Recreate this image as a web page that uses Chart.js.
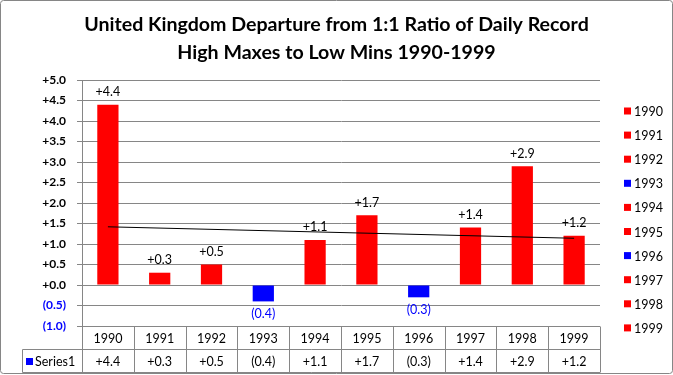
<!DOCTYPE html>
<html>
<head>
<meta charset="utf-8">
<script src="https://cdn.jsdelivr.net/npm/chart.js@4"></script>
<style>
    body { margin: 0; background: #fff; }
    canvas { display: block; }
</style>
</head>
<body>
<canvas id="ukChart" width="673" height="375"></canvas>
<script>
const years = ['1990', '1991', '1992', '1993', '1994', '1995', '1996', '1997', '1998', '1999'];
const departures = [4.4, 0.3, 0.5, -0.4, 1.1, 1.7, -0.3, 1.4, 2.9, 1.2];
// trend line end points (1990 and 1999)
const trendStart = 1.42;
const trendEnd = 1.14;
const yMin = -1.0;
const yMax = 5.0;
const yStep = 0.5;

const RED = '#ff0000';
const BLUE = '#0000ff';
const GRID = '#868686';
const FONT = 'Lato, "Liberation Sans", sans-serif';

function formatValue(v) {
    if (v < 0) return '(' + Math.abs(v).toFixed(1) + ')';
    return '+' + v.toFixed(1);
}

const barColors = departures.map(v => v < 0 ? BLUE : RED);
const trendData = years.map((y, i) => i === 0 ? trendStart : (i === years.length - 1 ? trendEnd : null));

// labels above / below the bars, data table, legend and frame
const extrasPlugin = {
    id: 'extras',
    afterDatasetsDraw(chart) {
        const ctx = chart.ctx;
        const meta = chart.getDatasetMeta(1);
        ctx.save();
        ctx.font = '12.5px ' + FONT;
        ctx.textAlign = 'center';
        ctx.textBaseline = 'middle';
        meta.data.forEach((bar, i) => {
            const v = departures[i];
            if (v >= 0) {
                ctx.fillStyle = '#000';
                ctx.fillText(formatValue(v), bar.x, bar.y - 12.5);
            } else {
                ctx.fillStyle = BLUE;
                ctx.fillText(formatValue(v), bar.x, bar.y + 13);
            }
        });
        ctx.restore();
    },
    afterDraw(chart) {
        const ctx = chart.ctx;
        const area = chart.chartArea;
        const xs = chart.scales.x;
        const n = years.length;
        const colW = (area.right - area.left) / n;
        const top = Math.round(area.bottom) + 0.5;
        const rowH = 23;
        const tableLeft = 22.5;

        ctx.save();
        ctx.strokeStyle = GRID;
        ctx.lineWidth = 1;
        ctx.beginPath();
        ctx.moveTo(area.left, top);
        ctx.lineTo(area.right, top);
        ctx.moveTo(tableLeft, top + rowH);
        ctx.lineTo(area.right, top + rowH);
        ctx.moveTo(tableLeft, top + 2 * rowH);
        ctx.lineTo(area.right, top + 2 * rowH);
        ctx.moveTo(tableLeft, top + rowH);
        ctx.lineTo(tableLeft, top + 2 * rowH);
        for (let i = 0; i <= n; i++) {
            const x = Math.round(area.left + i * colW) + 0.5;
            ctx.moveTo(x, top);
            ctx.lineTo(x, top + 2 * rowH);
        }
        ctx.stroke();

        ctx.font = '12.5px ' + FONT;
        ctx.textAlign = 'center';
        ctx.textBaseline = 'middle';
        ctx.fillStyle = '#000';
        years.forEach((yr, i) => {
            const cx = xs.getPixelForValue(i);
            ctx.fillText(yr, cx, top + rowH / 2 + 1);
            ctx.fillText(formatValue(departures[i]), cx, top + rowH * 1.5 + 1);
        });
        ctx.fillStyle = BLUE;
        ctx.fillRect(26, top + rowH * 1.5 - 3, 7, 7);
        ctx.fillStyle = '#000';
        ctx.textAlign = 'left';
        ctx.fillText('Series1', 35, top + rowH * 1.5 + 1);

        // legend
        years.forEach((yr, i) => {
            const cy = 111 + i * 24.1;
            ctx.fillStyle = barColors[i];
            ctx.fillRect(624, cy - 3.5, 7, 7);
            ctx.fillStyle = '#000';
            ctx.fillText(yr, 634, cy + 1);
        });

        // outer frame
        ctx.strokeStyle = GRID;
        ctx.lineWidth = 1;
        ctx.beginPath();
        ctx.roundRect(0.5, 0.5, chart.width - 1, chart.height - 2, 3);
        ctx.stroke();
        ctx.restore();
    }
};

new Chart(document.getElementById('ukChart').getContext('2d'), {
    data: {
        labels: years,
        datasets: [{
            type: 'line',
            label: 'Trend',
            data: trendData,
            spanGaps: true,
            borderColor: '#000',
            borderWidth: 1,
            pointRadius: 0,
            order: 0
        }, {
            type: 'bar',
            label: 'Series1',
            data: departures,
            backgroundColor: barColors,
            categoryPercentage: 1,
            barPercentage: 0.41,
            order: 1
        }]
    },
    options: {
        responsive: false,
        animation: false,
        layout: {
            padding: { left: 0, right: 0, top: 0, bottom: 49 }
        },
        plugins: {
            legend: { display: false },
            tooltip: { enabled: false },
            title: {
                display: true,
                text: ['United Kingdom Departure from 1:1 Ratio of Daily Record', 'High Maxes to Low Mins 1990-1999'],
                color: '#000',
                font: { family: FONT, size: 19.6, weight: 'bold', lineHeight: 1.43 },
                padding: { top: 11, bottom: 13 }
            }
        },
        scales: {
            x: {
                display: false,
                offset: true,
                grid: { display: false }
            },
            y: {
                min: yMin,
                max: yMax,
                ticks: {
                    stepSize: yStep,
                    padding: 11,
                    font: { family: FONT, size: 12, weight: 'bold' },
                    color: ctx => ctx.tick.value < 0 ? BLUE : '#000',
                    callback: v => formatValue(v)
                },
                grid: { color: GRID, tickLength: 5 },
                border: { color: GRID },
                afterFit: scale => { scale.width = 82; }
            },
            // empty right-hand axis that keeps room for the legend column
            yRight: {
                position: 'right',
                min: yMin,
                max: yMax,
                ticks: { display: false },
                grid: { display: false },
                border: { display: false },
                afterFit: scale => { scale.width = 73; }
            }
        }
    },
    plugins: [extrasPlugin]
});
</script>
</body>
</html>
